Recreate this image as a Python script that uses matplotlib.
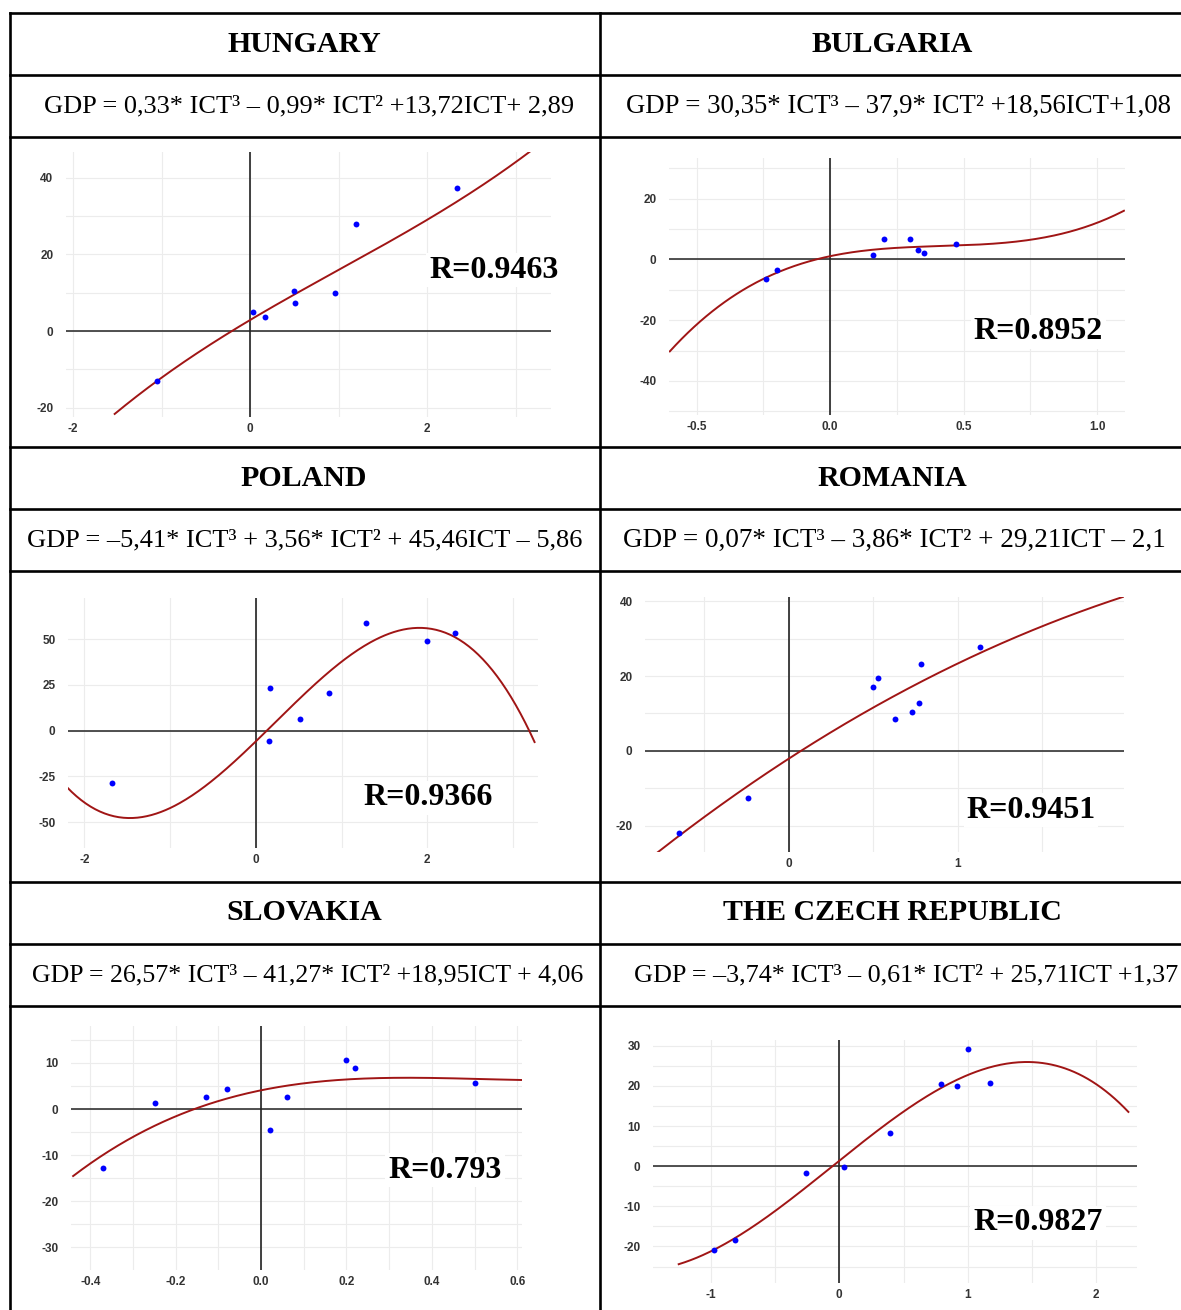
import numpy as np
import matplotlib
matplotlib.use("Agg")
import matplotlib.pyplot as plt

plt.rcParams["axes.unicode_minus"] = False

W, H = 1181, 1310

countries = ["HUNGARY", "BULGARIA", "POLAND", "ROMANIA", "SLOVAKIA", "THE CZECH REPUBLIC"]
equations = [
    "GDP = 0,33* ICT³ – 0,99* ICT² +13,72ICT+ 2,89",
    "GDP = 30,35* ICT³ – 37,9* ICT² +18,56ICT+1,08",
    "GDP = –5,41* ICT³ + 3,56* ICT² + 45,46ICT – 5,86",
    "GDP = 0,07* ICT³ – 3,86* ICT² + 29,21ICT – 2,1",
    "GDP = 26,57* ICT³ – 41,27* ICT² +18,95ICT + 4,06",
    "GDP = –3,74* ICT³ – 0,61* ICT² + 25,71ICT +1,37",
]
r_values = ["R=0.9463", "R=0.8952", "R=0.9366", "R=0.9451", "R=0.793", "R=0.9827"]

# cubic fit coefficients (ICT^3, ICT^2, ICT, const) as printed in the table
coefs = [
    (0.33, -0.99, 13.72, 2.89),
    (30.35, -37.9, 18.56, 1.08),
    (-5.41, 3.56, 45.46, -5.86),
    (0.07, -3.86, 29.21, -2.1),
    (26.57, -41.27, 18.95, 4.06),
    (-3.74, -0.61, 25.71, 1.37),
]
# range over which each fitted curve is drawn
curve_from = [-1.53, -0.60, -2.20, -0.78, -0.44, -1.25]
curve_to = [3.17, 1.10, 3.25, 1.98, 0.61, 2.25]

# observations
hun_ict = [-1.05, 0.03, 0.17, 0.50, 0.51, 0.96, 1.20, 2.34]
hun_gdp = [-13.0, 5.1, 3.6, 10.5, 7.3, 9.9, 27.8, 37.2]
bul_ict = [-0.241, -0.200, 0.161, 0.201, 0.301, 0.330, 0.351, 0.470]
bul_gdp = [-6.5, -3.4, 1.6, 6.9, 6.9, 3.2, 2.2, 5.0]
pol_ict = [-1.68, 0.165, 0.156, 0.51, 0.85, 1.28, 2.00, 2.32]
pol_gdp = [-28.8, 23.5, -5.8, 6.4, 20.8, 58.9, 49.1, 53.6]
rom_ict = [-0.651, -0.241, 0.50, 0.531, 0.629, 0.730, 0.770, 0.781, 1.132]
rom_gdp = [-22.0, -12.5, 17.1, 19.6, 8.5, 10.4, 12.9, 23.1, 27.8]
svk_ict = [-0.369, -0.249, -0.129, -0.080, 0.021, 0.061, 0.200, 0.221, 0.500]
svk_gdp = [-12.7, 1.2, 2.5, 4.3, -4.6, 2.7, 10.7, 8.9, 5.6]
cze_ict = [-0.977, -0.81, -0.259, 0.040, 0.392, 0.79, 0.919, 1.00, 1.17]
cze_gdp = [-21.0, -18.5, -1.6, -0.1, 8.3, 20.4, 20.1, 29.3, 20.7]
ict_data = [hun_ict, bul_ict, pol_ict, rom_ict, svk_ict, cze_ict]
gdp_data = [hun_gdp, bul_gdp, pol_gdp, rom_gdp, svk_gdp, cze_gdp]

# axis ranges, labelled ticks and grid lines
xlims = [(-2.08, 3.40), (-0.603, 1.104), (-2.19, 3.29), (-0.85, 1.985), (-0.445, 0.611), (-1.45, 2.317)]
ylims = [(-22.4, 46.7), (-51.2, 33.4), (-64.2, 72.6), (-27.0, 41.1), (-34.9, 18.0), (-29.1, 31.45)]
xtick_vals = [[-2, 0, 2], [-0.5, 0, 0.5, 1.0], [-2, 0, 2], [0, 1], [-0.4, -0.2, 0, 0.2, 0.4, 0.6], [-1, 0, 1, 2]]
xtick_text = [["-2", "0", "2"], ["-0.5", "0.0", "0.5", "1.0"], ["-2", "0", "2"], ["0", "1"],
              ["-0.4", "-0.2", "0.0", "0.2", "0.4", "0.6"], ["-1", "0", "1", "2"]]
ytick_vals = [[-20, 0, 20, 40], [-40, -20, 0, 20], [-50, -25, 0, 25, 50], [-20, 0, 20, 40],
              [-30, -20, -10, 0, 10], [-20, -10, 0, 10, 20, 30]]
xgrid = [np.arange(-2, 3.01, 1), np.arange(-0.5, 1.01, 0.25), np.arange(-2, 3.01, 1),
         np.arange(-0.5, 1.51, 0.5), np.arange(-0.4, 0.61, 0.1), np.arange(-1, 2.01, 0.5)]
ygrid = [np.arange(-20, 41, 10), np.arange(-50, 31, 10), np.arange(-50, 51, 25),
         np.arange(-20, 41, 10), np.arange(-30, 16, 5), np.arange(-25, 31, 5)]

# plot boxes in pixels: left, right, top, bottom
boxes = [(66, 551, 152, 417), (669, 1125, 158, 415), (68, 538, 598, 848),
         (645, 1124, 597, 852), (71, 522, 1026, 1270), (653, 1137, 1040, 1283)]
r_pos = [(494, 270), (1038, 332), (428, 798), (1031, 810), (445, 1170), (1038, 1223)]
eq_left = [44, 626, 27, 623, 32, 634]
eq_size = [19, 19.3, 19, 19.5, 18.6, 18.8]

col_x = [304, 892]
row_top = [13, 447, 882]

fig = plt.figure(figsize=(W / 100, H / 100), dpi=100)

# table grid
tab = fig.add_axes([0, 0, 1, 1])
tab.set_xlim(0, W)
tab.set_ylim(H, 0)
tab.axis("off")
lw = 1.9
tab.plot([10, 10], [13, H], color="black", lw=lw)
tab.plot([600, 600], [13, H], color="black", lw=lw)
for t in row_top:
    for yy in [t, t + 62, t + 124]:
        tab.plot([10, W], [yy, yy], color="black", lw=lw)

for i in range(6):
    cx = col_x[i % 2]
    t = row_top[i // 2]
    tab.text(cx, t + 31, countries[i], ha="center", va="center", fontsize=21.5,
             fontweight="bold", family="Liberation Serif")
    tab.text(eq_left[i], t + 93, equations[i], ha="left", va="center", fontsize=eq_size[i],
             family="Liberation Serif")

for i in range(6):
    l, r, tp, bt = boxes[i]
    ax = fig.add_axes([l / W, 1 - bt / H, (r - l) / W, (bt - tp) / H])
    ax.set_facecolor("none")
    for g in xgrid[i]:
        ax.axvline(g, color="#ececec", lw=0.8, zorder=0)
    for g in ygrid[i]:
        ax.axhline(g, color="#ececec", lw=0.8, zorder=0)
    ax.axhline(0, color="#333333", lw=1.2, zorder=1)
    ax.axvline(0, color="#222222", lw=1.2, zorder=1)

    a, b, c, d = coefs[i]
    xs = np.linspace(curve_from[i], curve_to[i], 300)
    ax.plot(xs, a * xs**3 + b * xs**2 + c * xs + d, color="#a01515", lw=1.4, zorder=2)
    ax.scatter(ict_data[i], gdp_data[i], s=18, color="#0000ff", zorder=3, linewidths=0)

    ax.set_xlim(*xlims[i])
    ax.set_ylim(*ylims[i])
    ax.set_xticks(xtick_vals[i])
    ax.set_xticklabels(xtick_text[i])
    ax.set_yticks(ytick_vals[i])
    ax.tick_params(length=0, labelsize=8.5, labelcolor="#333333")
    ax.tick_params(axis="x", pad=4)
    ax.tick_params(axis="y", pad=9)
    for lab in ax.get_xticklabels() + ax.get_yticklabels():
        lab.set_fontweight("bold")
        lab.set_family("Liberation Sans")
    for s in ax.spines.values():
        s.set_visible(False)

    px, py = r_pos[i]
    fig.text(px / W, 1 - py / H, r_values[i], ha="center", va="center", fontsize=23,
             fontweight="bold", family="Liberation Serif",
             bbox=dict(facecolor="white", edgecolor="none", pad=2))

fig.savefig("out.png", dpi=100)
